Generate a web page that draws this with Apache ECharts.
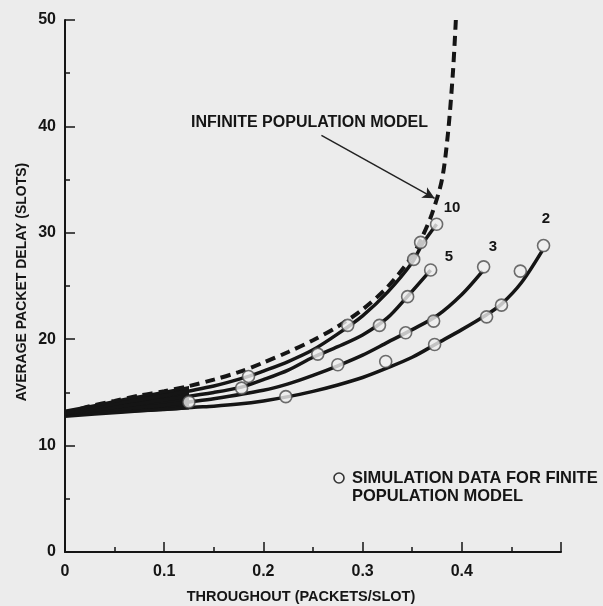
<!DOCTYPE html>
<html>
<head>
<meta charset="utf-8">
<style type="text/css">
html, body {margin: 0; padding: 0; background: #ececec}
#chart {width: 603px; height: 606px}
</style>
</head>
<body>
<div id="chart"></div>
<script src="https://cdn.jsdelivr.net/npm/echarts@6/dist/echarts.min.js"></script>
<script type="text/javascript">
// infinite population model (dashed)
var infX = [0, 0.025, 0.05, 0.075, 0.1, 0.125, 0.15, 0.175, 0.2, 0.225, 0.25, 0.275, 0.3, 0.325, 0.35, 0.36, 0.37, 0.38, 0.386, 0.391, 0.394];
var infY = [13, 13.7, 14.2, 14.7, 15.1, 15.6, 16.2, 16.9, 17.8, 18.8, 19.9, 21.2, 22.8, 24.9, 27.8, 29.6, 31.8, 35.0, 39.3, 45.0, 50];

// finite population model, M = 10, 5, 3, 2
var m10X = [0, 0.05, 0.1, 0.15, 0.185, 0.2, 0.225, 0.25, 0.275, 0.3, 0.325, 0.35, 0.36, 0.3746];
var m10Y = [13, 13.9, 14.7, 15.6, 16.5, 17.0, 17.9, 19.0, 20.5, 22.2, 24.4, 27.2, 28.9, 30.8];
var m5X = [0, 0.05, 0.1, 0.15, 0.178, 0.2, 0.225, 0.25, 0.275, 0.3, 0.325, 0.345, 0.3686];
var m5Y = [13, 13.6, 14.3, 15.0, 15.5, 16.2, 17.1, 18.3, 19.3, 20.4, 22.0, 24.0, 26.5];
var m3X = [0, 0.05, 0.1, 0.125, 0.15, 0.2, 0.225, 0.25, 0.275, 0.3, 0.325, 0.35, 0.375, 0.4, 0.421];
var m3Y = [13, 13.4, 13.8, 14.1, 14.4, 15.2, 15.8, 16.6, 17.5, 18.5, 19.7, 20.9, 22.2, 24.2, 26.4];
var m2X = [0, 0.05, 0.1, 0.13, 0.15, 0.175, 0.2, 0.225, 0.25, 0.275, 0.3, 0.325, 0.35, 0.375, 0.4, 0.425, 0.44, 0.46, 0.481];
var m2Y = [13, 13.2, 13.4, 13.6, 13.7, 13.9, 14.2, 14.6, 15.1, 15.7, 16.4, 17.3, 18.3, 19.6, 20.9, 22.3, 23.3, 25.3, 28.3];

// simulation data (circles)
var simX = [0.1249, 0.178, 0.185, 0.2226, 0.2548, 0.275, 0.285, 0.317, 0.3233, 0.3434, 0.3454,
            0.3515, 0.3585, 0.3686, 0.3716, 0.3726, 0.3746, 0.422, 0.425, 0.440, 0.459, 0.4824];
var simY = [14.1, 15.4, 16.5, 14.6, 18.6, 17.6, 21.3, 21.3, 17.9, 20.6, 24.0,
            27.5, 29.1, 26.5, 21.7, 19.5, 30.8, 26.8, 22.1, 23.2, 26.4, 28.8];

// black wedge where the curves run together near the origin
var wedgeX = [0, 0.03, 0.06, 0.09, 0.125];
var wedgeLow = [12.6, 12.8, 13.0, 13.2, 13.4];
var wedgeTop = [13.4, 13.9, 14.5, 15.0, 15.6];

// arrow from the label to the dashed curve
var arrowFrom = [0.2585, 39.15];
var arrowTo = [0.3726, 33.24];

function pts(xs, ys) {
    return xs.map(function (x, i) { return [x, ys[i]]; });
}

var ink = '#151515';
var fnt = '"Liberation Sans", Arial, sans-serif';

function curve(xs, ys) {
    return {
        type: 'line',
        data: pts(xs, ys),
        smooth: 0.3,
        symbol: 'none',
        silent: true,
        lineStyle: {color: ink, width: 3.5}
    };
}

function label(txt, x, y, size, align) {
    return {type: 'text', style: {text: txt, x: x, y: y, align: align || 'center', verticalAlign: 'middle',
        font: 'bold ' + size + 'px ' + fnt, fill: ink}};
}

var chart = echarts.init(document.getElementById('chart'));

var option = {
    backgroundColor: '#ececec',
    animation: false,
    grid: {left: 65, right: 42, top: 20, bottom: 54, containLabel: false},
    xAxis: {
        type: 'value',
        min: 0,
        max: 0.5,
        interval: 0.1,
        splitLine: {show: false},
        axisLine: {lineStyle: {color: ink, width: 2}},
        axisTick: {inside: true, length: 10, lineStyle: {color: ink, width: 1.5}},
        minorTick: {show: true, splitNumber: 2, length: 5, lineStyle: {color: ink, width: 1.5}},
        axisLabel: {
            margin: 12,
            color: ink,
            fontFamily: fnt,
            fontWeight: 'bold',
            fontSize: 16,
            formatter: function (v) { return v >= 0.5 ? '' : String(+v.toFixed(1)); }
        }
    },
    yAxis: {
        type: 'value',
        min: 0,
        max: 50,
        interval: 10,
        splitLine: {show: false},
        axisLine: {lineStyle: {color: ink, width: 2}},
        axisTick: {inside: true, length: 10, lineStyle: {color: ink, width: 1.5}},
        minorTick: {show: true, splitNumber: 2, length: 5, lineStyle: {color: ink, width: 1.5}},
        axisLabel: {margin: 9, color: ink, fontFamily: fnt, fontWeight: 'bold', fontSize: 16}
    },
    series: [
        {
            type: 'custom',
            data: [0],
            silent: true,
            renderItem: function (params, api) {
                var top = wedgeX.map(function (x, i) { return api.coord([x, wedgeTop[i]]); });
                var low = wedgeX.map(function (x, i) { return api.coord([x, wedgeLow[i]]); }).reverse();
                return {type: 'polygon', shape: {points: top.concat(low)}, style: {fill: ink}};
            }
        },
        curve(m2X, m2Y),
        curve(m3X, m3Y),
        curve(m5X, m5Y),
        curve(m10X, m10Y),
        {
            type: 'line',
            data: pts(infX, infY),
            smooth: 0.3,
            symbol: 'none',
            silent: true,
            lineStyle: {color: ink, width: 4, type: [10, 6], cap: 'butt'},
            markLine: {
                silent: true,
                symbol: ['none', 'arrow'],
                symbolSize: [9, 12],
                label: {show: false},
                lineStyle: {color: '#222', width: 1.5, type: 'solid'},
                data: [[{coord: arrowFrom}, {coord: arrowTo}]]
            }
        },
        {
            type: 'scatter',
            data: pts(simX, simY),
            symbol: 'circle',
            symbolSize: 12,
            silent: true,
            z: 5,
            itemStyle: {color: '#efefef', borderColor: '#4a4a4a', borderWidth: 1.6}
        }
    ],
    graphic: [
        label('INFINITE POPULATION MODEL', 191, 123, 16, 'left'),
        label('10', 452, 208, 15),
        label('5', 449, 257, 15),
        label('3', 493, 247, 15),
        label('2', 546, 219, 15),
        {type: 'circle', shape: {cx: 339, cy: 478, r: 5}, style: {fill: '#efefef', stroke: '#333', lineWidth: 1.6}},
        label('SIMULATION DATA FOR FINITE', 352, 478, 16.5, 'left'),
        label('POPULATION MODEL', 352, 496, 16.5, 'left'),
        label('THROUGHOUT (PACKETS/SLOT)', 301, 597, 14.5),
        {type: 'text', x: 22, y: 282, rotation: Math.PI / 2,
            style: {text: 'AVERAGE PACKET DELAY (SLOTS)', x: 0, y: 0, align: 'center', verticalAlign: 'middle',
            font: 'bold 14px ' + fnt, fill: ink}}
    ]
};

chart.setOption(option);
</script>
</body>
</html>
